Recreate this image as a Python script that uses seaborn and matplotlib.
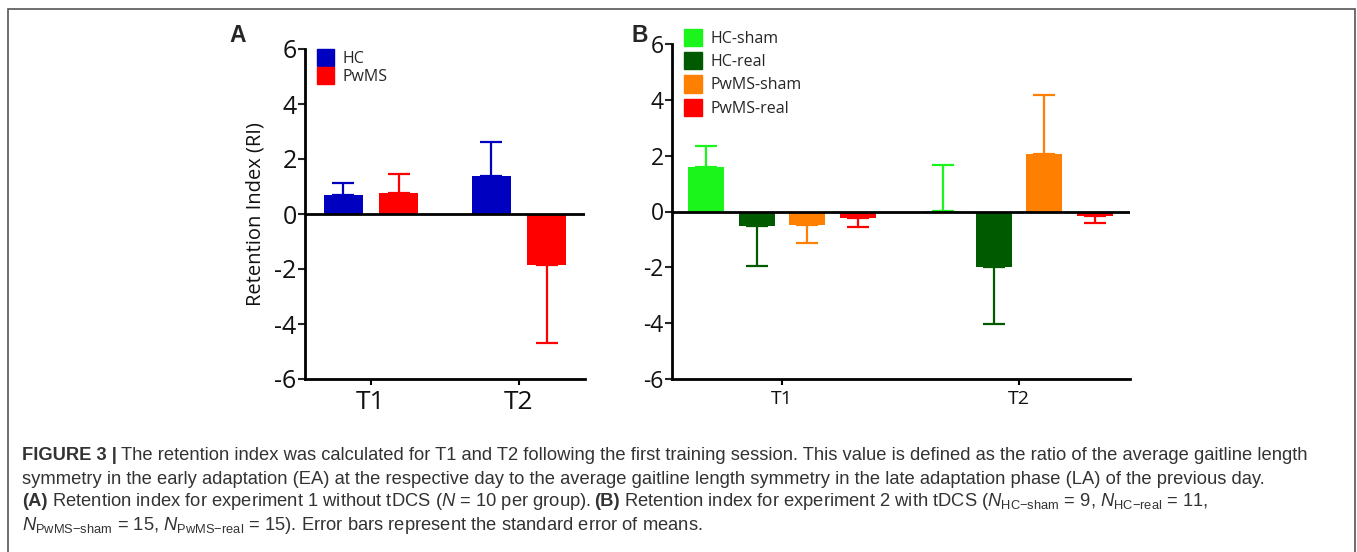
import matplotlib
matplotlib.use("Agg")
import matplotlib.pyplot as plt
import seaborn as sns
import pandas as pd
import numpy as np
from matplotlib.patches import Rectangle, Patch

# ---------------- data ----------------
timepoints = ["T1", "T2"]

groups_a = ["HC", "PwMS"]
mean_a_hc = [0.68, 1.38]
sem_a_hc = [0.45, 1.25]
mean_a_pwms = [0.78, -1.85]
sem_a_pwms = [0.68, 2.85]

groups_b = ["HC-sham", "HC-real", "PwMS-sham", "PwMS-real"]
mean_b_hc_sham = [1.60, 0.02]
sem_b_hc_sham = [0.73, 1.65]
mean_b_hc_real = [-0.52, -1.99]
sem_b_hc_real = [1.45, 2.05]
mean_b_pwms_sham = [-0.49, 2.06]
sem_b_pwms_sham = [0.63, 2.12]
mean_b_pwms_real = [-0.23, -0.17]
sem_b_pwms_real = [0.33, 0.23]

yticks = [-6, -4, -2, 0, 2, 4, 6]

colors_a = ["#0000c0", "#ff0000"]
colors_b = ["#1cf51c", "#005a00", "#ff8000", "#ff0000"]

# ---------------- style ----------------
sns.set_theme(style="ticks")
plt.rcParams["font.family"] = ["Open Sans", "DejaVu Sans"]

W, H = 1357, 552
fig = plt.figure(figsize=(W / 100, H / 100), dpi=100)


def frac_box(x0, y0, x1, y1):
    return [x0 / W, 1 - y1 / H, (x1 - x0) / W, (y1 - y0) / H]


def make_df(groups, means, sems):
    rows = []
    for g, m, s in zip(groups, means, sems):
        for t, mv, sv in zip(timepoints, m, s):
            rows.append({"time": t, "group": g, "mean": mv, "sem": sv})
    return pd.DataFrame(rows)


def draw_panel(ax, df, groups, colors, width, tick_fs, xt_fs, cap):
    sns.barplot(data=df, x="time", y="mean", hue="group", hue_order=groups,
                order=timepoints, palette=colors, width=width, gap=0.29,
                errorbar=None, ax=ax, legend=False, saturation=1,
                edgecolor="none", linewidth=0)
    for cont, g, c in zip(ax.containers, groups, colors):
        sub = df[df["group"] == g].set_index("time").loc[timepoints]
        for bar, m, s in zip(cont, sub["mean"], sub["sem"]):
            xc = bar.get_x() + bar.get_width() / 2
            yerr = [[0], [s]] if m >= 0 else [[s], [0]]
            ax.errorbar([xc], [m], yerr=yerr, fmt="none", ecolor=c,
                        elinewidth=1.6, capsize=cap, capthick=1.6, zorder=1)
    ax.axhline(0, color="black", lw=2, zorder=5)
    ax.set_ylim(-6, 6)
    ax.set_yticks(yticks)
    ax.set_yticklabels([str(v) for v in yticks], fontsize=tick_fs, color="#111111")
    ax.set_xlabel("")
    ax.set_ylabel("")
    ax.tick_params(axis="x", labelsize=xt_fs, length=4, width=1.5, colors="black",
                   labelcolor="#111111", pad=4)
    ax.tick_params(axis="y", length=5, width=1.5, pad=1)
    for sp in ["top", "right"]:
        ax.spines[sp].set_visible(False)
    for sp in ["left", "bottom"]:
        ax.spines[sp].set_linewidth(2)
        ax.spines[sp].set_color("black")


# ---------------- panel A ----------------
axA = fig.add_axes(frac_box(305, 49, 585, 379))
dfA = make_df(groups_a, [mean_a_hc, mean_a_pwms], [sem_a_hc, sem_a_pwms])
draw_panel(axA, dfA, groups_a, colors_a, 0.744, 18, 19, 8)
axA.set_xlim(-0.446, 1.446)
axA.set_ylabel("Retention Index (RI)", fontsize=14.5, labelpad=6, color="#111111")
handles_a = [Patch(color=c, label=g) for g, c in zip(groups_a, colors_a)]
axA.legend(handles=handles_a, loc="upper left", bbox_to_anchor=(0.02, 1.02),
           frameon=False, fontsize=11.5, handlelength=1.05, handleheight=1.3,
           handletextpad=0.55, labelspacing=0.0, borderaxespad=0)

# ---------------- panel B ----------------
axB = fig.add_axes(frac_box(672, 44, 1130, 379))
dfB = make_df(groups_b,
              [mean_b_hc_sham, mean_b_hc_real, mean_b_pwms_sham, mean_b_pwms_real],
              [sem_b_hc_sham, sem_b_hc_real, sem_b_pwms_sham, sem_b_pwms_real])
draw_panel(axB, dfB, groups_b, colors_b, 0.856, 16.5, 14, 8)
axB.set_xlim(-0.464, 1.468)
handles_b = [Patch(color=c, label=g) for g, c in zip(groups_b, colors_b)]
axB.legend(handles=handles_b, loc="upper left", bbox_to_anchor=(0.013, 1.065),
           frameon=False, fontsize=11.5, handlelength=1.1, handleheight=1.3,
           handletextpad=0.55, labelspacing=0.33, borderaxespad=0)

# panel letters
fig.text(238 / W, 1 - 35 / H, "A", fontsize=16.5, fontweight="bold", ha="center", va="center",
         family=["Liberation Sans", "DejaVu Sans"])
fig.text(640 / W, 1 - 35 / H, "B", fontsize=16.5, fontweight="bold", ha="center", va="center",
         family=["Liberation Sans", "DejaVu Sans"])

# frame box
fig.patches.append(Rectangle((8 / W, -0.05), (1355 - 8) / W, 1 - 8.5 / H + 0.05,
                             transform=fig.transFigure, fill=False,
                             edgecolor="#555555", linewidth=1.2))

# ---------------- caption ----------------
plt.rcParams["mathtext.fontset"] = "custom"
plt.rcParams["mathtext.rm"] = "Liberation Sans"
plt.rcParams["mathtext.it"] = "Liberation Sans:italic"
cap_font = ["Liberation Sans", "DejaVu Sans"]
cap_col = "#333333"
fs = 13.2
ys = [456, 479, 502, 525]
sp = 4  # pixel gap for stripped spaces

fig.canvas.draw()
r = fig.canvas.get_renderer()


def put(xpix, ypix, s, bold=False):
    t = fig.text(xpix / W, 1 - ypix / H, s, fontsize=fs,
                 fontweight="bold" if bold else "normal",
                 color=cap_col, family=cap_font, va="center")
    return t.get_window_extent(r).x1


x = put(22, ys[0], "FIGURE 3 |", bold=True)
put(x + sp, ys[0],
    "The retention index was calculated for T1 and T2 following the first training session. "
    "This value is defined as the ratio of the average gaitline length")

put(22, ys[1],
    "symmetry in the early adaptation (EA) at the respective day to the average gaitline "
    "length symmetry in the late adaptation phase (LA) of the previous day.")

x = put(22, ys[2], "(A)", bold=True)
x = put(x + sp, ys[2], r"Retention index for experiment 1 without tDCS ($N$ = 10 per group).")
x = put(x + sp, ys[2], "(B)", bold=True)
put(x + sp, ys[2],
    r"Retention index for experiment 2 with tDCS ($N_{\mathrm{HC{-}sham}}$ = 9, $N_{\mathrm{HC{-}real}}$ = 11,")

put(22, ys[3],
    r"$N_{\mathrm{PwMS{-}sham}}$ = 15, $N_{\mathrm{PwMS{-}real}}$ = 15). Error bars represent the standard error of means.")

fig.savefig("out.png", dpi=100)
